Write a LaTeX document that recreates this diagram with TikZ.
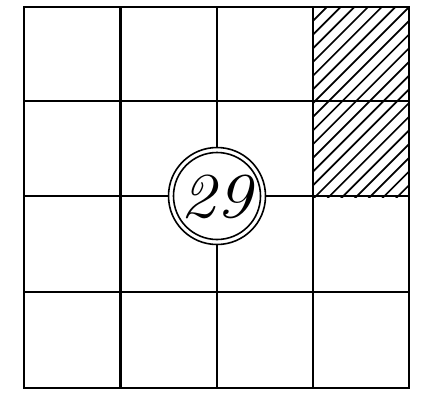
\documentclass[tikz,border=0pt]{standalone}
\usetikzlibrary{calc}
\begin{document}
\begin{tikzpicture}[x=1pt,y=-1pt,
  gridline/.style={line width=2.2pt,line cap=rect},
  hatch/.style={line width=1.7pt},
  ring/.style={circle,draw,line width=1.6pt,fill=white}]
\useasboundingbox (0,0) rectangle (438,397);
% hatching
\begin{scope}
\clip (313,7) rectangle (409,197);
\foreach \i in {-16,...,26} {
  \draw[hatch] (313+\i*13.7,199) -- ++(200,-200);
}
\end{scope}
% grid
\foreach \x in {24,120.5,217,313,409} \draw[gridline] (\x,7) -- (\x,388);
\foreach \y in {7,101,196,292,388} \draw[gridline] (24,\y) -- (409,\y);
% circle with number
\node[ring,minimum size=97pt,inner sep=0pt] (outer) at (217,196) {};
\node[circle,draw,line width=1.6pt,minimum size=87pt,inner sep=0pt] (inner) at (outer) {};
\node[font=\fontsize{64}{64}\selectfont\itshape,xscale=1.1,inner sep=0pt] (num) at (216,197) {29};
\end{tikzpicture}
\end{document}
